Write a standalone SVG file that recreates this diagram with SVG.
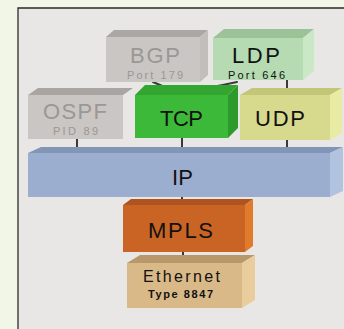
<svg xmlns="http://www.w3.org/2000/svg" width="344" height="329" viewBox="0 0 344 329">
<style>
.lbl{font-family:"Liberation Sans",Arial,sans-serif;text-anchor:middle}
.big{font-size:22px}
.sm{font-size:11px}
.dk{fill:#111}
.gr{fill:#9b9795}
.conn{stroke:#3a3a3a;stroke-width:2;fill:none;stroke-linecap:round}
</style>
<rect x="0" y="0" width="344" height="329" fill="#f1f6e7"/>
<rect x="18" y="8" width="326" height="321" fill="#e9e7e5"/>
<path d="M18,329 V8 H344" fill="none" stroke="#2a2a2a" stroke-width="1.3"/>

<g id="connectors">
<path class="conn" d="M153,82 Q170,90 184,91"/>
<path class="conn" d="M186,91 Q210,88 237,82"/>
<path class="conn" d="M287,80 V93"/>
<path class="conn" d="M77,139 V152"/>
<path class="conn" d="M182,138 V152"/>
<path class="conn" d="M287,140 V152"/>
<path class="conn" d="M182,197 V208"/>
<path class="conn" d="M183,252 V262"/>
</g>

<g id="bgp">
<polygon points="106,37 114,30 208,30 200,37" fill="#aaa7a4"/>
<polygon points="200,37 208,30 208,75 200,82" fill="#c1bebb"/>
<rect x="106" y="37" width="94" height="45" fill="#c9c6c3"/>
<text class="lbl big gr" x="155" y="63" textLength="50" lengthAdjust="spacing">BGP</text>
<text class="lbl sm gr" x="155" y="78.5" textLength="56" lengthAdjust="spacing">Port 179</text>
</g>

<g id="ldp">
<polygon points="213,38 224,29 314,29 303,38" fill="#9cc298"/>
<polygon points="303,38 314,29 314,71 303,80" fill="#cbe8c6"/>
<rect x="213" y="38" width="90" height="42" fill="#b6dab1"/>
<text class="lbl big dk" x="256" y="63" textLength="48" lengthAdjust="spacing">LDP</text>
<text class="lbl sm dk" x="256.5" y="78.5" textLength="57" lengthAdjust="spacing">Port 646</text>
</g>

<g id="ospf">
<polygon points="28,95 38,88 133,88 123,95" fill="#a8a5a2"/>
<rect x="28" y="95" width="95" height="44" fill="#c9c6c3"/>
<text class="lbl big gr" x="75" y="119" textLength="64" lengthAdjust="spacing">OSPF</text>
<text class="lbl sm gr" x="75.5" y="134.5" textLength="45" lengthAdjust="spacing">PID 89</text>
</g>

<g id="tcp">
<polygon points="135,95 145,85 238,85 228,95" fill="#33a531"/>
<polygon points="228,95 238,85 238,128 228,138" fill="#2e9a2c"/>
<rect x="135" y="95" width="93" height="43" fill="#3db93a"/>
<text class="lbl big dk" x="181.5" y="126" textLength="43" lengthAdjust="spacing">TCP</text>
</g>

<g id="udp">
<polygon points="240,95 252,88 342,88 330,95" fill="#c3c579"/>
<polygon points="330,95 342,88 342,133 330,140" fill="#e8eba3"/>
<rect x="240" y="95" width="90" height="45" fill="#d7d98c"/>
<text class="lbl big dk" x="280" y="126" textLength="50" lengthAdjust="spacing">UDP</text>
</g>

<g id="ip">
<polygon points="28,153 41,147 343,147 330,153" fill="#8195b7"/>
<polygon points="330,153 343,147 343,191 330,197" fill="#b2c3e0"/>
<rect x="28" y="153" width="302" height="44" fill="#9caed0"/>
<text class="lbl big dk" x="182.5" y="185" textLength="21" lengthAdjust="spacing">IP</text>
</g>

<g id="mpls">
<polygon points="123,205 131,199 253,199 245,205" fill="#b0541f"/>
<polygon points="245,205 253,199 253,246 245,252" fill="#e17b2b"/>
<rect x="123" y="205" width="122" height="47" fill="#c96425"/>
<text class="lbl big dk" x="180.5" y="238" textLength="65" lengthAdjust="spacing">MPLS</text>
</g>

<g id="ethernet">
<polygon points="127,263 140,255 255,255 242,263" fill="#b8976b"/>
<polygon points="242,263 255,255 255,300 242,308" fill="#e9cd9d"/>
<rect x="127" y="263" width="115" height="45" fill="#d9b987"/>
<text class="lbl dk" font-size="16" x="181.5" y="282" textLength="77" lengthAdjust="spacing">Ethernet</text>
<text class="lbl dk" font-size="11" font-weight="bold" x="180.5" y="297.5" textLength="65" lengthAdjust="spacing">Type 8847</text>
</g>
</svg>
